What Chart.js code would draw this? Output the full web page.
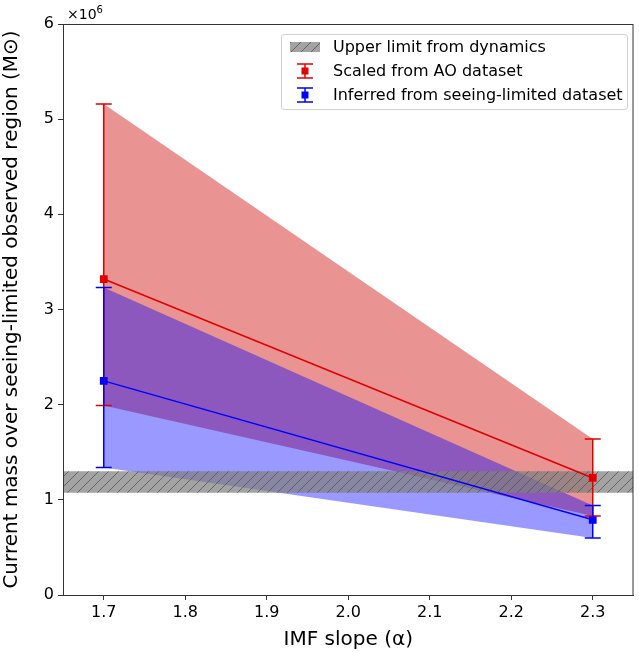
<!DOCTYPE html>
<html>
<head>
<meta charset="utf-8">
<script src="https://cdn.jsdelivr.net/npm/chart.js@4.4.0/dist/chart.umd.min.js"></script>
<style>
  html, body { margin: 0; padding: 0; background: #fff; }
  #wrap { position: relative; width: 639px; height: 652px; font-family: "DejaVu Sans", sans-serif; }
  #mult { position: absolute; left: 67px; top: 4px; font-size: 14px; color: #000; }
  #mult sup { font-size: 10px; }
  #legend {
    position: absolute; left: 281px; top: 34px; width: 345px; height: 74px;
    border: 1px solid #d0d0d0; border-radius: 3px; background: rgba(255,255,255,0.85);
  }
  .row { position: absolute; left: 0; height: 24px; font-size: 16px; color: #000; line-height: 24px; }
  .row span { position: absolute; left: 51px; white-space: nowrap; }
  .row canvas { position: absolute; left: 6px; top: 0; }
</style>
</head>
<body>
<div id="wrap">
  <canvas id="chart" width="639" height="652"></canvas>
  <div id="mult">×10<sup>6</sup></div>
  <div id="legend">
    <div class="row" style="top:0px"><canvas id="lg0" width="36" height="24"></canvas><span>Upper limit from dynamics</span></div>
    <div class="row" style="top:24px"><canvas id="lg1" width="36" height="24"></canvas><span>Scaled from AO dataset</span></div>
    <div class="row" style="top:48px"><canvas id="lg2" width="36" height="24"></canvas><span>Inferred from seeing-limited dataset</span></div>
  </div>
</div>
<script>
// IMF slope values
const slopes = [1.7, 2.3];

// mass in units of 1e6 Msun
const aoMass = [3.32, 1.23];
const aoLow = [1.99, 0.83];
const aoHigh = [5.16, 1.64];

const slMass = [2.25, 0.79];
const slLow = [1.34, 0.60];
const slHigh = [3.23, 0.94];

// dynamical upper limit band
const bandX = [1.65, 2.35];
const bandLow = [1.075, 1.075];
const bandHigh = [1.30, 1.30];

const xTicks = [1.7, 1.8, 1.9, 2.0, 2.1, 2.2, 2.3];
const yTicks = [0, 1, 2, 3, 4, 5, 6];

const redLine = '#e00000';
const blueLine = '#0000ff';
const redFill = 'rgba(214, 39, 40, 0.5)';
const blueFill = 'rgba(0, 0, 255, 0.4)';

function pts(xs, ys) {
    return xs.map((x, i) => ({ x: x, y: ys[i] }));
}

// hatched gray pattern for the band
function makeHatch() {
    const c = document.createElement('canvas');
    c.width = 10; c.height = 10;
    const g = c.getContext('2d');
    g.fillStyle = 'rgba(128, 128, 128, 0.72)';
    g.fillRect(0, 0, 10, 10);
    g.strokeStyle = 'rgba(85, 85, 85, 0.8)';
    g.lineWidth = 1;
    g.beginPath();
    g.moveTo(0, 10); g.lineTo(10, 0);
    g.moveTo(-5, 5); g.lineTo(5, -5);
    g.moveTo(5, 15); g.lineTo(15, 5);
    g.stroke();
    return g.createPattern(c, 'repeat');
}
const hatch = makeHatch();

// error bars with caps
const errorBars = {
    id: 'errorBars',
    afterDatasetsDraw(chart) {
        const { ctx, scales: { x, y } } = chart;
        const series = [
            { low: aoLow, high: aoHigh, color: redLine },
            { low: slLow, high: slHigh, color: blueLine }
        ];
        ctx.save();
        ctx.lineWidth = 1.5;
        series.forEach(s => {
            ctx.strokeStyle = s.color;
            slopes.forEach((v, i) => {
                const px = x.getPixelForValue(v);
                const y0 = y.getPixelForValue(s.low[i]);
                const y1 = y.getPixelForValue(s.high[i]);
                ctx.beginPath();
                ctx.moveTo(px, y0); ctx.lineTo(px, y1);
                ctx.moveTo(px - 8, y0); ctx.lineTo(px + 8, y0);
                ctx.moveTo(px - 8, y1); ctx.lineTo(px + 8, y1);
                ctx.stroke();
            });
        });
        ctx.restore();
    }
};

// full box around the plot area
const frame = {
    id: 'frame',
    afterDraw(chart) {
        const { ctx, chartArea: a } = chart;
        ctx.save();
        ctx.strokeStyle = '#333';
        ctx.lineWidth = 1;
        ctx.strokeRect(a.left + 0.5, a.top + 0.5, a.right - a.left - 1, a.bottom - a.top);
        ctx.restore();
    }
};

new Chart(document.getElementById('chart'), {
    type: 'line',
    data: {
        datasets: [
            { data: pts(slopes, aoHigh), borderWidth: 0, pointRadius: 0, fill: 1, backgroundColor: redFill, order: 6 },
            { data: pts(slopes, aoLow), borderWidth: 0, pointRadius: 0, fill: false, order: 6 },
            { data: pts(slopes, slHigh), borderWidth: 0, pointRadius: 0, fill: 3, backgroundColor: blueFill, order: 5 },
            { data: pts(slopes, slLow), borderWidth: 0, pointRadius: 0, fill: false, order: 5 },
            { data: pts(bandX, bandHigh), borderWidth: 0, pointRadius: 0, fill: 5, backgroundColor: hatch, order: 4 },
            { data: pts(bandX, bandLow), borderWidth: 0, pointRadius: 0, fill: false, order: 4 },
            { data: pts(slopes, aoMass), borderColor: redLine, borderWidth: 1.5, pointStyle: 'rect', pointRadius: 5.5,
              pointBackgroundColor: redLine, pointBorderWidth: 0, fill: false, order: 2 },
            { data: pts(slopes, slMass), borderColor: blueLine, borderWidth: 1.5, pointStyle: 'rect', pointRadius: 5.5,
              pointBackgroundColor: blueLine, pointBorderWidth: 0, fill: false, order: 1 }
        ]
    },
    options: {
        responsive: false,
        animation: false,
        layout: { padding: { top: 24, right: 2, left: 0, bottom: 0 } },
        plugins: {
            legend: { display: false },
            tooltip: { enabled: false }
        },
        scales: {
            x: {
                type: 'linear',
                min: 1.65,
                max: 2.35,
                afterBuildTicks: scale => { scale.ticks = xTicks.map(v => ({ value: v })); },
                afterFit: scale => { scale.height = 57; },
                ticks: {
                    callback: v => v.toFixed(1),
                    font: { family: 'DejaVu Sans', size: 16 },
                    color: '#000',
                    padding: 3,
                    maxRotation: 0
                },
                grid: { drawOnChartArea: false, tickLength: 5, tickColor: '#333' },
                border: { color: '#333' },
                title: {
                    display: true,
                    text: 'IMF slope (α)',
                    font: { family: 'DejaVu Sans', size: 20 },
                    color: '#000',
                    padding: { top: 2, bottom: 0 }
                }
            },
            y: {
                min: 0,
                max: 6,
                afterBuildTicks: scale => { scale.ticks = yTicks.map(v => ({ value: v })); },
                afterFit: scale => { scale.width = 63; },
                ticks: {
                    font: { family: 'DejaVu Sans', size: 16 },
                    color: '#000',
                    padding: 4
                },
                grid: { drawOnChartArea: false, tickLength: 5, tickColor: '#333' },
                border: { color: '#333' },
                title: {
                    display: true,
                    text: 'Current mass over seeing-limited observed region (M⊙)',
                    font: { family: 'DejaVu Sans', size: 20 },
                    color: '#000',
                    padding: { top: 0, bottom: 5 }
                }
            }
        }
    },
    plugins: [errorBars, frame]
});

// legend symbols
function drawBand(id) {
    const g = document.getElementById(id).getContext('2d');
    g.fillStyle = hatch;
    g.fillRect(2, 7, 30, 10);
}
function drawErr(id, color) {
    const g = document.getElementById(id).getContext('2d');
    g.strokeStyle = color;
    g.fillStyle = color;
    g.lineWidth = 1.5;
    g.beginPath();
    g.moveTo(17, 5); g.lineTo(17, 19);
    g.moveTo(9, 5); g.lineTo(25, 5);
    g.moveTo(9, 19); g.lineTo(25, 19);
    g.stroke();
    g.fillRect(13.5, 8.5, 7, 7);
}
drawBand('lg0');
drawErr('lg1', redLine);
drawErr('lg2', blueLine);
</script>
</body>
</html>
